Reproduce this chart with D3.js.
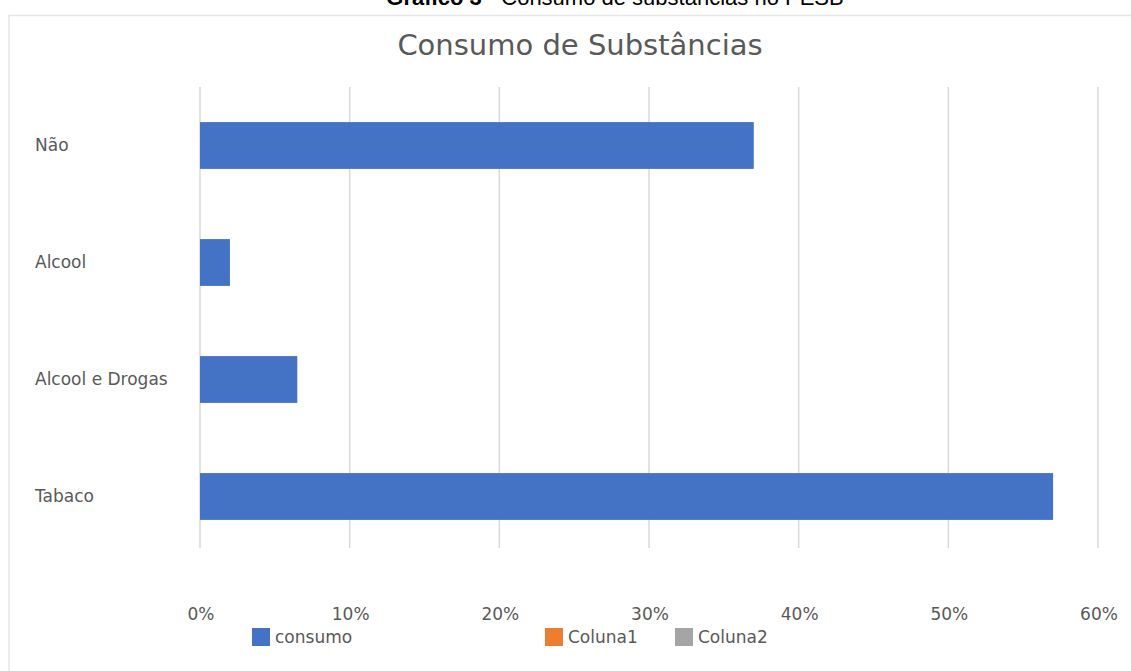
<!DOCTYPE html>
<html>
<head>
<meta charset="utf-8">
<script src="https://cdn.jsdelivr.net/npm/d3@7"></script>
<style>
  body { margin: 0; background: #fff; }
  svg { display: block; }
</style>
</head>
<body>
<div id="chart"></div>
<script>
// Data
const categories = ["Não", "Alcool", "Alcool e Drogas", "Tabaco"];
const consumo = [0.37, 0.02, 0.065, 0.57];
const xTicks = [0, 0.1, 0.2, 0.3, 0.4, 0.5, 0.6];
const legendItems = ["consumo", "Coluna1", "Coluna2"];
const legendColors = ["#4472c4", "#ed7d31", "#a5a5a5"];

const W = 1131;
const H = 671;
const FONT = "DejaVu Sans, Verdana, sans-serif";

const svg = d3.select("#chart").append("svg")
  .attr("width", W)
  .attr("height", H);

// Caption above the chart (cut off at the top, as in the source)
const cap = svg.append("text")
  .attr("x", 615)
  .attr("y", 5)
  .attr("text-anchor", "middle")
  .attr("font-family", "Liberation Sans, Arial, sans-serif")
  .attr("font-size", 22)
  .attr("fill", "#000");
cap.append("tspan").attr("font-weight", "bold").text("Gráfico 3");
cap.append("tspan").text(" - Consumo de substâncias no PESB");

// Chart frame
svg.append("rect")
  .attr("x", 9)
  .attr("y", 15.5)
  .attr("width", W + 20)
  .attr("height", H)
  .attr("fill", "#fff")
  .attr("stroke", "#e6e6e6")
  .attr("stroke-width", 1.5);

// Title
svg.append("text")
  .attr("x", 580)
  .attr("y", 55)
  .attr("text-anchor", "middle")
  .attr("font-family", FONT)
  .attr("font-size", 29)
  .attr("fill", "#595959")
  .text("Consumo de Substâncias");

// Scales
const x = d3.scaleLinear().domain([0, 0.6]).range([200, 1098]);
const y = d3.scaleBand().domain(categories).range([87, 555]).paddingInner(0.6).paddingOuter(0.3);

// Gridlines
svg.append("g")
  .selectAll("line")
  .data(xTicks)
  .enter()
  .append("line")
  .attr("x1", (d) => x(d))
  .attr("x2", (d) => x(d))
  .attr("y1", 87)
  .attr("y2", 548)
  .attr("stroke", "#d9d9d9")
  .attr("stroke-width", 1.5);

// Bars
svg.append("g")
  .selectAll("rect")
  .data(categories)
  .enter()
  .append("rect")
  .attr("x", x(0))
  .attr("y", (d) => y(d))
  .attr("width", (d, i) => x(consumo[i]) - x(0))
  .attr("height", y.bandwidth())
  .attr("fill", legendColors[0]);

// Category labels
svg.append("g")
  .selectAll("text")
  .data(categories)
  .enter()
  .append("text")
  .attr("x", 35)
  .attr("y", (d) => y(d) + y.bandwidth() / 2)
  .attr("dy", "0.35em")
  .attr("font-family", FONT)
  .attr("font-size", 17)
  .attr("fill", "#595959")
  .text((d) => d);

// X tick labels
svg.append("g")
  .selectAll("text")
  .data(xTicks)
  .enter()
  .append("text")
  .attr("x", (d) => x(d) + 1)
  .attr("y", 620)
  .attr("text-anchor", "middle")
  .attr("font-family", FONT)
  .attr("font-size", 17)
  .attr("fill", "#595959")
  .text((d) => d3.format(".0%")(d));

// Legend
const legendX = [252, 545, 675];
const legend = svg.append("g")
  .selectAll("g")
  .data(legendItems)
  .enter()
  .append("g")
  .attr("transform", (d, i) => "translate(" + legendX[i] + ",628)");

legend.append("rect")
  .attr("width", 18)
  .attr("height", 18)
  .attr("fill", (d, i) => legendColors[i]);

legend.append("text")
  .attr("x", 23)
  .attr("y", 15)
  .attr("font-family", FONT)
  .attr("font-size", 17)
  .attr("fill", "#595959")
  .text((d) => d);
</script>
</body>
</html>
